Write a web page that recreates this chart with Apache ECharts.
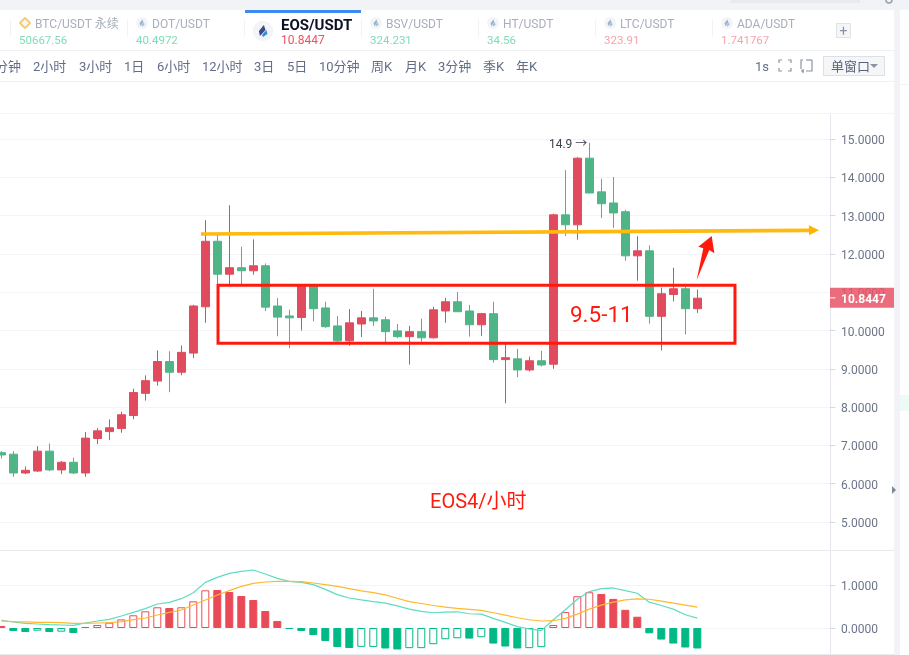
<!DOCTYPE html>
<html><head><meta charset="utf-8">
<style>html,body{margin:0;padding:0;background:#fff}#c{width:909px;height:655px}</style>
<script src="https://cdn.jsdelivr.net/npm/echarts@6/dist/echarts.min.js"></script>
</head><body><div id="c"></div>
<script>
const opens=[6.81,6.77,6.28,6.33,6.85,6.36,6.56,6.28,7.18,7.36,7.44,7.78,8.36,8.68,9.19,8.91,9.41,10.62,12.33,11.47,11.64,11.56,11.69,10.64,10.38,10.34,11.18,10.59,10.12,9.73,10.17,10.33,10.28,9.99,9.84,9.97,9.81,10.51,10.75,10.51,10.15,10.44,9.24,9.26,8.97,9.21,9.12,13.02,12.76,14.5,13.62,13.33,13.10,11.95,12.08,10.37,10.94,11.09,10.57];
const closes=[6.75,6.28,6.35,6.85,6.36,6.56,6.28,7.19,7.38,7.46,7.80,8.38,8.69,9.19,8.91,9.43,10.64,12.33,11.47,11.64,11.56,11.69,10.61,10.35,10.33,11.18,10.57,10.10,9.73,10.20,10.33,10.25,9.97,9.84,9.97,9.81,10.54,10.75,10.49,10.15,10.44,9.24,9.29,8.97,9.21,9.10,13.02,12.76,14.5,13.59,13.31,13.07,11.95,12.08,10.37,10.96,11.09,10.57,10.8447];
const lows=[6.66,6.18,6.25,6.31,6.33,6.25,6.25,6.18,7.03,7.14,7.33,7.68,8.17,8.56,8.39,8.83,9.28,10.20,11.2,11.2,11.2,11.46,10.51,9.85,9.54,10.0,10.24,10.07,9.70,9.60,9.83,10.12,9.70,9.80,9.11,9.71,9.79,10.20,10.49,9.84,9.86,9.16,8.10,8.78,8.93,9.06,9.0,12.47,12.37,13.59,12.94,12.68,11.82,11.30,10.18,9.48,10.76,9.90,10.46];
const highs=[6.85,6.85,6.45,6.98,7.05,6.59,6.68,7.35,7.45,7.68,7.88,8.48,8.83,9.48,9.46,9.61,10.67,12.88,12.51,13.27,12.19,12.38,11.75,10.85,10.54,11.2,11.2,10.75,10.38,10.56,10.51,11.09,10.36,10.17,10.12,10.31,10.62,10.85,11.0,10.67,10.46,10.75,9.67,9.52,9.32,9.47,13.05,14.19,14.53,14.9,13.96,14.01,13.15,12.46,12.22,11.12,11.64,11.15,11.07];
const macdHist=[0.047,-0.07,-0.093,-0.062,-0.093,-0.085,-0.116,0.023,0.07,0.124,0.2,0.295,0.388,0.481,0.465,0.481,0.62,0.876,0.884,0.837,0.744,0.651,0.395,0.163,-0.023,-0.07,-0.163,-0.302,-0.442,-0.465,-0.438,-0.44,-0.477,-0.5,-0.469,-0.469,-0.377,-0.262,-0.238,-0.246,-0.215,-0.362,-0.431,-0.477,-0.469,-0.446,0.069,0.369,0.738,0.831,0.792,0.677,0.423,0.262,-0.123,-0.269,-0.362,-0.454,-0.477];
const macdHollow=[3,5,8,9,10,11,12,13,15,16,17,30,31,34,35,36,37,38,40,44,45,46,47,48,49];
const dif=[0.178,0.14,0.109,0.093,0.078,0.07,0.062,0.116,0.163,0.2,0.279,0.364,0.45,0.558,0.597,0.682,0.82,1.062,1.178,1.271,1.318,1.349,1.256,1.155,1.085,1.062,1.008,0.899,0.775,0.698,0.654,0.615,0.577,0.515,0.438,0.385,0.354,0.369,0.377,0.331,0.323,0.223,0.131,0.031,-0.023,-0.062,0.192,0.423,0.669,0.846,0.915,0.931,0.869,0.808,0.6,0.523,0.438,0.308,0.231];
const dea=[0.163,0.147,0.14,0.132,0.132,0.124,0.109,0.109,0.116,0.124,0.147,0.194,0.233,0.302,0.364,0.419,0.535,0.651,0.767,0.868,0.969,1.039,1.07,1.085,1.085,1.078,1.047,1.008,0.969,0.915,0.862,0.823,0.769,0.692,0.615,0.569,0.523,0.485,0.454,0.431,0.408,0.354,0.3,0.238,0.192,0.162,0.169,0.223,0.323,0.438,0.531,0.6,0.654,0.677,0.669,0.623,0.577,0.531,0.485];
const priceTicks=[5,6,7,8,9,10,11,12,13,14,15];
const macdTicks=[0,1];
const lastPrice=10.8447;
const rangeBox=[[18.06,11.18],[61.14,9.666]];
const trendLine=[[16.64,12.52],[68.14,12.62]];
const redArrow=[[57.95,11.32],[58.5,12.146],[58.08,12.19],[59.2,12.47],[59.42,12.02],[59.0,12.10]];
const notes=[["9.5-11",50,10.38,"22.5px"],["EOS4/小时",39.75,5.49,"20px"]];
const highNote=["14.9 →",49,14.9];
const tabs=[["BTC/USDT 永续","50667.56","#7fdcb6",19],["DOT/USDT","40.4972","#7fdcb6",136],["BSV/USDT","324.231","#7fdcb6",370],["HT/USDT","34.56","#7fdcb6",487],["LTC/USDT","323.91","#f7a3ab",604],["ADA/USDT","1.741767","#f7a3ab",721]];
const periods=[["分钟",-5],["2小时",33],["3小时",79],["1日",124],["6小时",157],["12小时",202],["3日",254],["5日",287],["10分钟",319],["周K",371],["月K",405],["3分钟",438],["季K",483],["年K",516]];

const FONT='Roboto,"Noto Sans CJK SC",sans-serif';
const cats=Array.from({length:70},(_,i)=>String(i));
const RED='#e04c5d',GREEN='#4fb587',MRED='#ea4a57',MGREEN='#02b986';
const g=[];
const T=(text,x,y,font,fill,z)=>g.push({type:'text',z:z||20,style:{text,x,y:y+2,font:font,fill,textVerticalAlign:'middle'}});
const R=(x,y,w,h,fill,stroke)=>g.push({type:'rect',z:15,shape:{x,y,width:w,height:h},style:{fill:fill||'none',stroke:stroke||null,lineWidth:1}});
const drop=(cx,cy,s,c1,c2)=>{
  const P=a=>a.map(p=>[cx+p[0]*s,cy+p[1]*s]);
  g.push({type:'circle',z:16,shape:{cx,cy,r:6*s},style:{fill:'#f3f4f7'}});
  g.push({type:'polygon',z:17,shape:{points:P([[0.5,-3.6],[1.5,-0.6],[-1.8,3],[-2.4,0]])},style:{fill:c1}});
  g.push({type:'polygon',z:17,shape:{points:P([[2,-0.6],[2.6,1.8],[0,3.6],[-0.6,2.4]])},style:{fill:c2}});
};
// page chrome
R(0,0,909,10,'#f1f3f7');
R(730,0,130,3,'#e8eaee');
g.push({type:'circle',z:16,shape:{cx:889,cy:0,r:3},style:{fill:'none',stroke:'#9aa0ab',lineWidth:1.5}});
R(0,50,894,1,'#eef0f2');R(0,81,894,1,'#f1f2f4');R(0,113,894,1,'#f3f4f6');
R(0,550,894,1,'#e8eaee');R(0,654,894,1,'#e8eaee');
R(894,10,6,645,'#f1f3f7');R(900,84,9,1,'#f1f3f5');R(900,395,9,16,'#eefaf6');
R(245,10,116,3,'#3c8bf0');
[10.5,127.5,244.5,361.5,478.5,595.5,712.5].forEach(x=>R(x,20,0.5,16,'#e4e6ea'));
tabs.forEach((t,i)=>{
  if(i===0){g.push({type:'circle',z:16,shape:{cx:t[3]+6,cy:23,r:6},style:{fill:'#f6f5f0'}});
    g.push({type:'polygon',z:17,shape:{points:[[t[3]+6,18],[t[3]+11,23],[t[3]+6,28],[t[3]+1,23]]},style:{fill:'none',stroke:'#f6c35a',lineWidth:1.5}});}
  else drop(t[3]+6,23,1,'#a5afc6','#7cc6ea');
  T(t[0],t[3]+16,23,'12px '+FONT,'#a8aebb');
  T(t[1],t[3],39,'11.5px '+FONT,t[2]);
});
drop(263,31,1.7,'#3f4a80','#2f8fd6');
T('EOS/USDT',281,24,'bold 15px '+FONT,'#0c1226');
T('10.8447',281,39,'12px '+FONT,'#f0505f');
R(836.5,23.5,14,14,'#f5f6f8','#e0e3e8');T('+',839.5,30,'14px '+FONT,'#8a92a3');
periods.forEach(p=>T(p[0],p[1],66,'13px '+FONT,'#626d87'));
T('1s',755,66,'13px '+FONT,'#626d87');
const corner=(pts)=>g.push({type:'polyline',z:17,shape:{points:pts},style:{stroke:'#8b93a5',fill:'none',lineWidth:1.2}});
corner([[779,63],[779,60],[782,60]]);corner([[788,60],[791,60],[791,63]]);corner([[779,68],[779,71],[782,71]]);corner([[788,71],[791,71],[791,68]]);
corner([[806,60],[812,60]]);corner([[812,60],[812,71],[806,71]]);corner([[801,69],[801,60],[803,60]]);corner([[801,71],[804,71]]);corner([[803,69],[803,73]]);
R(823.5,56.5,61,19,'#f5f6f8','#dcdfe5');T('单窗口',831,66,'13px '+FONT,'#59627a');
g.push({type:'polygon',z:17,shape:{points:[[870,64],[878,64],[874,68]]},style:{fill:'#8b93a5'}});
g.push({type:'polygon',z:17,shape:{points:[[892,486],[896,490],[892,494]]},style:{fill:'#7f8899'}});

const yAxisCommon=(min,max,ticks,gridIndex)=>({type:'value',gridIndex,position:'right',offset:-5.3,min,max,scale:false,
  axisLine:{show:true,onZero:false,lineStyle:{color:'#e3e6ec',width:1}},
  axisTick:{show:true,length:5.3,customValues:ticks,lineStyle:{color:'#d5d9e0'}},
  axisLabel:{show:true,margin:11,customValues:ticks,formatter:v=>'{a|'+v.toFixed(4)+'}',align:'left',verticalAlign:'middle',showMinLabel:true,showMaxLabel:true,
    rich:{a:{color:'#6b7588',fontSize:12,fontFamily:'Roboto',padding:[4,0,0,0],lineHeight:14}}},
  splitLine:{show:true,lineStyle:{color:'#f3f4f6',width:1}}});

function drawNotes(params,api){
  const c=p=>api.coord(p);
  const a=c(rangeBox[0]),b=c(rangeBox[1]);
  const s=c(trendLine[0]),e=c(trendLine[1]);
  const ang=Math.atan2(e[1]-s[1],e[0]-s[0]);
  const rot=(dx,dy)=>[e[0]+dx*Math.cos(ang)-dy*Math.sin(ang),e[1]+dx*Math.sin(ang)+dy*Math.cos(ang)];
  const tag=c([58,lastPrice])[1];
  const hp=c([highNote[1],highNote[2]]);
  const kids=[
    {type:'line',shape:{x1:s[0],y1:s[1],x2:e[0]-9,y2:e[1]+0.2},style:{stroke:'#ffb90f',lineWidth:3.6}},
    {type:'polygon',shape:{points:[rot(0,0),rot(-10,-5),rot(-10,5)]},style:{fill:'#ffb400'}},
    {type:'rect',shape:{x:a[0],y:a[1],width:b[0]-a[0],height:b[1]-a[1]},style:{fill:'none',stroke:'#ff1a0d',lineWidth:3}},
    {type:'polygon',shape:{points:redArrow.map(c)},style:{fill:'#ff1a0d'}},
    {type:'text',style:{text:highNote[0],x:hp[0]-2,y:hp[1]+2,textAlign:'right',textVerticalAlign:'middle',font:'12px '+FONT,fill:'#3c4150'}},
    {type:'rect',shape:{x:830,y:tag-10.3,width:64,height:20},style:{fill:'rgba(232,84,102,0.85)'}},
    {type:'line',shape:{x1:830,y1:tag-0.3,x2:835.5,y2:tag-0.3},style:{stroke:'#fff',lineWidth:1}},
    {type:'text',style:{text:lastPrice.toFixed(4),x:841,y:tag+1.5,textVerticalAlign:'middle',font:'bold 12px Roboto',fill:'#fff'}}
  ];
  notes.forEach(n=>{const p=c([n[1],n[2]]);kids.push({type:'text',style:{text:n[0],x:p[0],y:p[1],textAlign:'center',textVerticalAlign:'middle',font:n[3]+' Roboto,"Noto Sans CJK SC"',fill:'#ff1a0d'}});});
  return {type:'group',children:kids};
}

const chart=echarts.init(document.getElementById('c'),null,{renderer:'canvas'});
chart.setOption({
  animation:false,backgroundColor:'#fff',graphic:{elements:g},
  grid:[{left:-4.7,width:840,top:114,height:435,outerBoundsMode:'none',containLabel:false},
        {left:-4.7,width:840,top:550,height:104,outerBoundsMode:'none',containLabel:false}],
  xAxis:[{type:'category',gridIndex:0,data:cats,show:false,boundaryGap:true},
         {type:'category',gridIndex:1,data:cats,show:false,boundaryGap:true},
         {type:'value',gridIndex:0,min:-0.5,max:69.5,show:false}],
  yAxis:[yAxisCommon(4.295,15.653,priceTicks,0),yAxisCommon(-0.605,1.814,macdTicks,1)],
  series:[
   {type:'candlestick',xAxisIndex:0,yAxisIndex:0,barWidth:8,
    data:opens.map((o,i)=>[o,closes[i],lows[i],highs[i]]),
    itemStyle:{color:RED,color0:GREEN,borderColor:RED,borderColor0:GREEN,borderWidth:1}},
   {type:'bar',xAxisIndex:1,yAxisIndex:1,barWidth:8,
    data:macdHist.map((v,i)=>{const c=v>=0?MRED:MGREEN;const h=macdHollow.includes(i);
      return {value:v,itemStyle:{color:h?'#fff':c,borderColor:c,borderWidth:1}};})},
   {type:'line',xAxisIndex:1,yAxisIndex:1,data:dif,symbol:'none',lineStyle:{color:'#5fdcc0',width:1.2},z:4},
   {type:'line',xAxisIndex:1,yAxisIndex:1,data:dea,symbol:'none',lineStyle:{color:'#ffb92e',width:1.2},z:5},
   {type:'custom',xAxisIndex:2,yAxisIndex:0,data:[[0,lastPrice]],renderItem:drawNotes,z:10,silent:true}
  ]
});
</script></body></html>
